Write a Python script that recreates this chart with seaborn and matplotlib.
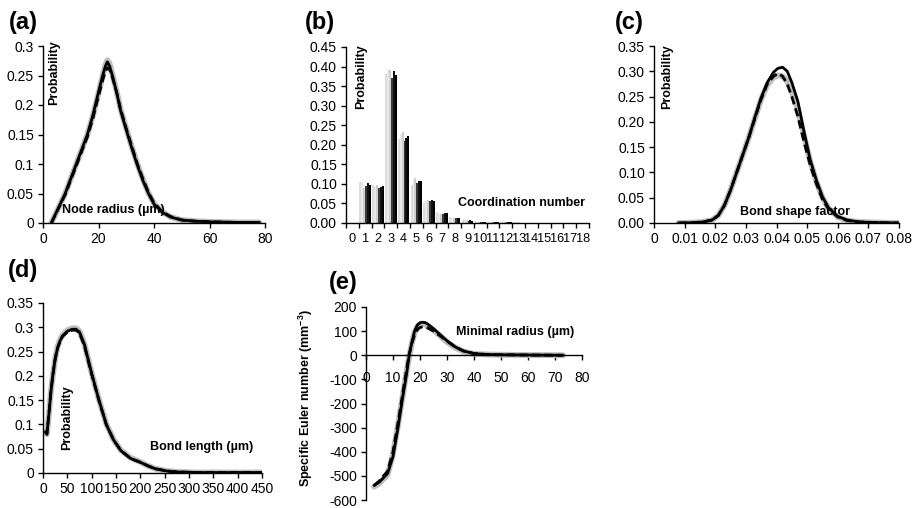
import matplotlib
matplotlib.use("Agg")
import matplotlib.pyplot as plt
import numpy as np
import pandas as pd
import seaborn as sns
from matplotlib.ticker import FuncFormatter, MultipleLocator, FixedLocator

# ---------------- data ----------------
# (a) node radius distribution
node_radius = [3, 5, 8, 10, 12, 14, 16, 18, 20, 21.5, 22.5, 23.2, 24, 25, 26.5, 28, 30, 32, 34, 36, 38, 40, 43, 46, 50, 55, 60, 70, 78]
node_solid = [0, 0.02, 0.05, 0.075, 0.1, 0.125, 0.15, 0.183, 0.222, 0.25, 0.266, 0.273, 0.266, 0.25, 0.222, 0.19, 0.158, 0.127, 0.098, 0.072, 0.05, 0.032, 0.018, 0.01, 0.005, 0.003, 0.002, 0.001, 0.001]
node_dash = [0, 0.019, 0.048, 0.073, 0.097, 0.122, 0.146, 0.178, 0.215, 0.242, 0.257, 0.263, 0.26, 0.247, 0.222, 0.192, 0.16, 0.13, 0.1, 0.075, 0.052, 0.034, 0.019, 0.011, 0.005, 0.003, 0.002, 0.001, 0.001]
node_gray = [0, 0.02, 0.05, 0.075, 0.1, 0.125, 0.15, 0.182, 0.22, 0.25, 0.268, 0.276, 0.27, 0.252, 0.224, 0.192, 0.16, 0.129, 0.1, 0.074, 0.051, 0.033, 0.019, 0.01, 0.005, 0.003, 0.002, 0.001, 0.001]

# (b) coordination number distribution (6 realisations)
coord_number = list(range(19))
coord_s1 = [0, 0.105, 0.097, 0.380, 0.215, 0.097, 0.050, 0.028, 0.016, 0.008, 0.004, 0.003, 0.002, 0.002, 0.001, 0.001, 0.001, 0.0005, 0.0005]
coord_s2 = [0, 0.105, 0.095, 0.395, 0.228, 0.110, 0.058, 0.025, 0.014, 0.007, 0.003, 0.003, 0.002, 0.002, 0.001, 0.001, 0.001, 0.0005, 0.0005]
coord_s3 = [0, 0.090, 0.097, 0.390, 0.232, 0.115, 0.060, 0.024, 0.013, 0.007, 0.003, 0.003, 0.002, 0.002, 0.001, 0.001, 0.001, 0.0005, 0.0005]
coord_s4 = [0, 0.095, 0.090, 0.370, 0.210, 0.103, 0.057, 0.024, 0.012, 0.006, 0.003, 0.002, 0.002, 0.001, 0.001, 0.001, 0.0005, 0.0005, 0.0005]
coord_s5 = [0, 0.102, 0.093, 0.388, 0.218, 0.108, 0.058, 0.026, 0.014, 0.007, 0.003, 0.002, 0.002, 0.001, 0.001, 0.001, 0.0005, 0.0005, 0.0005]
coord_s6 = [0, 0.098, 0.094, 0.378, 0.222, 0.107, 0.056, 0.025, 0.013, 0.006, 0.003, 0.002, 0.002, 0.001, 0.001, 0.001, 0.0005, 0.0005, 0.0005]
coord_series = ["s1", "s2", "s3", "s4", "s5", "s6"]

# (c) bond shape factor distribution
shape_factor = [0.008, 0.012, 0.016, 0.019, 0.021, 0.023, 0.025, 0.027, 0.029, 0.031, 0.033, 0.035, 0.037, 0.039, 0.0405, 0.042, 0.0435, 0.045, 0.047, 0.049, 0.051, 0.053, 0.055, 0.057, 0.060, 0.063, 0.067, 0.072, 0.080]
shape_solid = [0, 0.0005, 0.002, 0.006, 0.015, 0.035, 0.065, 0.1, 0.135, 0.17, 0.21, 0.248, 0.278, 0.298, 0.306, 0.308, 0.3, 0.278, 0.24, 0.18, 0.125, 0.085, 0.052, 0.03, 0.013, 0.006, 0.002, 0.001, 0]
shape_dash = [0, 0.0005, 0.002, 0.006, 0.015, 0.035, 0.065, 0.1, 0.135, 0.17, 0.208, 0.245, 0.275, 0.29, 0.296, 0.29, 0.275, 0.25, 0.21, 0.16, 0.115, 0.078, 0.047, 0.027, 0.012, 0.005, 0.002, 0.001, 0]
shape_gray = [0, 0.0005, 0.002, 0.006, 0.015, 0.035, 0.065, 0.1, 0.135, 0.17, 0.208, 0.245, 0.273, 0.288, 0.292, 0.29, 0.28, 0.26, 0.225, 0.172, 0.122, 0.082, 0.05, 0.029, 0.012, 0.005, 0.002, 0.001, 0]

# (d) bond length distribution
bond_length = [5, 8, 12, 16, 20, 25, 30, 35, 40, 50, 60, 68, 75, 85, 100, 115, 130, 145, 160, 180, 200, 215, 230, 255, 280, 320, 380, 450]
length_solid = [0.085, 0.08, 0.12, 0.165, 0.2, 0.235, 0.258, 0.272, 0.282, 0.292, 0.296, 0.296, 0.29, 0.265, 0.205, 0.15, 0.1, 0.068, 0.046, 0.03, 0.022, 0.015, 0.009, 0.004, 0.002, 0.001, 0.001, 0.001]
length_dash = [0.085, 0.08, 0.12, 0.165, 0.2, 0.234, 0.257, 0.271, 0.281, 0.29, 0.294, 0.294, 0.288, 0.262, 0.203, 0.149, 0.1, 0.068, 0.046, 0.03, 0.022, 0.015, 0.009, 0.004, 0.002, 0.001, 0.001, 0.001]
length_gray = [0.085, 0.08, 0.12, 0.166, 0.2, 0.236, 0.26, 0.274, 0.284, 0.294, 0.298, 0.298, 0.292, 0.266, 0.206, 0.151, 0.101, 0.069, 0.047, 0.031, 0.023, 0.015, 0.009, 0.004, 0.002, 0.001, 0.001, 0.001]

# (e) specific Euler number vs minimal radius
min_radius = [3, 5, 8, 10, 12, 13.5, 15, 16, 17, 18, 19, 20, 21, 22, 23, 25, 27.5, 30, 33, 36, 40, 45, 50, 60, 73]
euler_solid = [-540, -525, -490, -420, -290, -180, -80, 0, 55, 100, 125, 135, 137, 135, 128, 110, 85, 60, 35, 18, 7, 3, 2, 1, 0]
euler_dash = [-540, -520, -480, -400, -270, -165, -60, 5, 50, 85, 105, 115, 118, 117, 112, 100, 80, 58, 35, 18, 7, 3, 2, 1, 0]
euler_gray = [-545, -530, -495, -410, -280, -175, -70, -5, 50, 95, 118, 128, 130, 128, 120, 105, 80, 55, 32, 16, 6, 3, 2, 1, 0]

# ---------------- style ----------------
sns.set_style("ticks")
plt.rcParams["font.family"] = ["Liberation Sans", "DejaVu Sans"]
plt.rcParams["mathtext.fontset"] = "custom"
plt.rcParams["mathtext.rm"] = "Liberation Sans"
plt.rcParams["mathtext.bf"] = "Liberation Sans:bold"
plt.rcParams["axes.linewidth"] = 1.0
plt.rcParams["xtick.major.width"] = 1.0
plt.rcParams["ytick.major.width"] = 1.0
plt.rcParams["xtick.major.size"] = 3.5
plt.rcParams["ytick.major.size"] = 3.5
plt.rcParams["xtick.labelsize"] = 10
plt.rcParams["ytick.labelsize"] = 10
plt.rcParams["xtick.color"] = "black"
plt.rcParams["ytick.color"] = "black"
plt.rcParams["xtick.labelcolor"] = "black"
plt.rcParams["ytick.labelcolor"] = "black"
plt.rcParams["text.color"] = "black"
plt.rcParams["axes.labelcolor"] = "black"
plt.rcParams["axes.edgecolor"] = "black"

W, H = 917, 508
fig = plt.figure(figsize=(W / 100, H / 100), dpi=100)


def add_ax(left, top, right, bottom):
    return fig.add_axes([left / W, 1 - bottom / H, (right - left) / W, (bottom - top) / H])


def ftxt(x, y, s, **kw):
    fig.text(x / W, 1 - y / H, s, ha="center", va="center", color="black", **kw)


GRAY = "#bdbdbd"


def three_lines(ax, x, gray, dash, solid):
    sns.lineplot(x=x, y=gray, ax=ax, color=GRAY, lw=4.2, sort=False, solid_capstyle="round")
    sns.lineplot(x=x, y=dash, ax=ax, color="black", lw=2.0, sort=False, linestyle=(0, (3, 1.5)))
    sns.lineplot(x=x, y=solid, ax=ax, color="black", lw=2.0, sort=False)


def clean(ax):
    sns.despine(ax=ax)
    ax.set_xlabel("")
    ax.set_ylabel("")
    ax.tick_params(axis="both", pad=3, colors="black")


gfmt = FuncFormatter(lambda v, p: f"{v:g}")
f2 = FuncFormatter(lambda v, p: f"{v:.2f}")

# (a)
axa = add_ax(43, 46, 265, 223)
three_lines(axa, node_radius, node_gray, node_dash, node_solid)
axa.set_xlim(0, 80)
axa.set_ylim(0, 0.3)
axa.xaxis.set_major_locator(MultipleLocator(20))
axa.yaxis.set_major_locator(MultipleLocator(0.05))
axa.yaxis.set_major_formatter(gfmt)
clean(axa)

# (b)
axb = add_ax(346, 47, 589, 223)
df_b = pd.DataFrame({
    "cn": np.tile(coord_number, 6),
    "p": np.concatenate([coord_s1, coord_s2, coord_s3, coord_s4, coord_s5, coord_s6]),
    "series": np.repeat(coord_series, len(coord_number)),
})
bar_pal = dict(zip(coord_series, ["#dcdcdc", "#e9e9e9", "#cfcfcf", "#3a3a3a", "#111111", "#000000"]))
sns.barplot(data=df_b, x="cn", y="p", hue="series", hue_order=coord_series, palette=bar_pal,
            width=0.9, saturation=1, linewidth=0, legend=False, ax=axb)
axb.set_xlim(-0.5, 18.5)
axb.set_ylim(0, 0.45)
axb.xaxis.set_major_locator(FixedLocator(coord_number))
axb.set_xticklabels([str(c) for c in coord_number], fontsize=9.2)
axb.xaxis.set_minor_locator(FixedLocator(np.arange(-0.5, 19, 1)))
axb.yaxis.set_major_locator(MultipleLocator(0.05))
axb.yaxis.set_major_formatter(f2)
clean(axb)
axb.tick_params(axis="x", which="major", length=0, pad=7)
axb.tick_params(axis="x", which="minor", length=3.5, width=1.0, color="black")

# (c)
axc = add_ax(654, 46, 899, 223)
three_lines(axc, shape_factor, shape_gray, shape_dash, shape_solid)
axc.set_xlim(0, 0.08)
axc.set_ylim(0, 0.35)
axc.xaxis.set_major_locator(MultipleLocator(0.01))
axc.xaxis.set_major_formatter(gfmt)
axc.yaxis.set_major_locator(MultipleLocator(0.05))
axc.yaxis.set_major_formatter(f2)
clean(axc)

# (d)
axd = add_ax(43, 303, 262, 473)
three_lines(axd, bond_length, length_gray, length_dash, length_solid)
axd.set_xlim(0, 450)
axd.set_ylim(0, 0.35)
axd.xaxis.set_major_locator(MultipleLocator(50))
axd.yaxis.set_major_locator(MultipleLocator(0.05))
axd.yaxis.set_major_formatter(gfmt)
clean(axd)

# (e)
axe = add_ax(366, 307, 582, 500)
three_lines(axe, min_radius, euler_gray, euler_dash, euler_solid)
axe.set_xlim(0, 80)
axe.set_ylim(-600, 200)
axe.xaxis.set_major_locator(MultipleLocator(10))
axe.yaxis.set_major_locator(MultipleLocator(100))
axe.yaxis.set_major_formatter(FuncFormatter(lambda v, p: f"{v:.0f}".replace("\u2212", "-")))
clean(axe)
axe.spines["bottom"].set_position(("data", 0))
axe.tick_params(axis="x", pad=8)

# panel letters
for x, y, s in [(23, 22, "(a)"), (320, 22, "(b)"), (629, 22, "(c)"), (23, 271, "(d)"), (343, 283, "(e)")]:
    ftxt(x, y, s, fontsize=17, fontweight="bold")

# axis titles inside panels
lab = dict(fontsize=9, fontweight="bold")
ftxt(54, 73, "Probability", rotation=90, **lab)
ftxt(361, 77, "Probability", rotation=90, **lab)
ftxt(667, 77, "Probability", rotation=90, **lab)
ftxt(67, 418, "Probability", rotation=90, **lab)
ftxt(306, 398, r"Specific Euler number (mm$^{\mathbf{-3}}$)", rotation=90, **lab)
ftxt(113, 210, "Node radius (\u00b5m)", **lab)
ftxt(521, 203, "Coordination number", **lab)
ftxt(795, 212, "Bond shape factor", **lab)
ftxt(202, 447, "Bond length (\u00b5m)", **lab)
ftxt(515, 332, "Minimal radius (\u00b5m)", **lab)

fig.savefig("out.png", dpi=100)
